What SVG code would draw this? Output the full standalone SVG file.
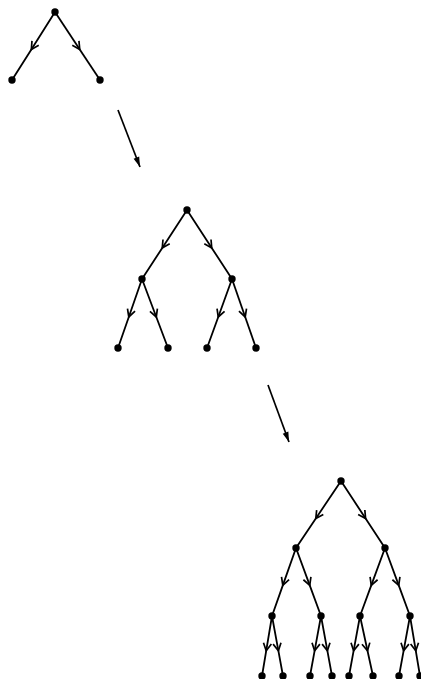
<svg xmlns="http://www.w3.org/2000/svg" width="421" height="679" viewBox="0 0 421 679">
<style>
.e{fill:none;stroke:#000;stroke-width:1.8;marker-mid:url(#chev)}
.big{fill:none;stroke:#000;stroke-width:1.7;marker-end:url(#tri)}
.n{fill:#000}
</style>
<defs>
<marker id="chev" markerUnits="userSpaceOnUse" viewBox="-8 -5 10 10" refX="0" refY="0" markerWidth="10" markerHeight="10" orient="auto" overflow="visible">
<path d="M-7.5,-4 L0,0 L-7.5,4" fill="none" stroke="#000" stroke-width="1.7"/>
</marker>
<marker id="tri" markerUnits="userSpaceOnUse" viewBox="-10 -4 11 8" refX="0" refY="0" markerWidth="11" markerHeight="8" orient="auto" overflow="visible">
<path d="M-10,-3 L0,0 L-10,3 Z" fill="#000"/>
</marker>
</defs>
<g id="connectors">
<path class="e" d="M55,12 L31.35,49.4 L12,80"/>
<path class="e" d="M55,12 L79.75,49.4 L100,80"/>
<path class="big" d="M118,110 L140,167"/>
<path class="e" d="M187,210 L162.25,247.95 L142,279"/>
<path class="e" d="M187,210 L211.75,247.95 L232,279"/>
<path class="e" d="M142,279 L128.8,316.95 L118,348"/>
<path class="e" d="M142,279 L156.3,316.95 L168,348"/>
<path class="e" d="M232,279 L218.25,316.95 L207,348"/>
<path class="e" d="M232,279 L245.2,316.95 L256,348"/>
<path class="big" d="M268,385 L289,442"/>
<path class="e" d="M341,481 L315.8,518.5 L296,548"/>
<path class="e" d="M341,481 L365.6,518.5 L385,548"/>
<path class="e" d="M296,548 L282.8,585.4 L272,616"/>
<path class="e" d="M296,548 L309.75,585.4 L321,616"/>
<path class="e" d="M385,548 L371.25,585.4 L360,616"/>
<path class="e" d="M385,548 L398.75,585.4 L410,616"/>
<path class="e" d="M272,616 L266.2,650.8 L262,676"/>
<path class="e" d="M272,616 L278.4,650.8 L283,676"/>
<path class="e" d="M321,616 L314.6,650.8 L310,676"/>
<path class="e" d="M321,616 L327.4,650.8 L332,676"/>
<path class="e" d="M360,616 L353.6,650.8 L349,676"/>
<path class="e" d="M360,616 L367.5,650.8 L373,676"/>
<path class="e" d="M410,616 L403.6,650.8 L399,676"/>
<path class="e" d="M410,616 L415.8,650.8 L420,676"/>
</g>
<g id="t1_root"><circle class="n" cx="55" cy="12" r="3.7"/></g>
<g id="t1_l"><circle class="n" cx="12" cy="80" r="3.7"/></g>
<g id="t1_r"><circle class="n" cx="100" cy="80" r="3.7"/></g>
<g id="t2_root"><circle class="n" cx="187" cy="210" r="3.7"/></g>
<g id="t2_l"><circle class="n" cx="142" cy="279" r="3.7"/></g>
<g id="t2_r"><circle class="n" cx="232" cy="279" r="3.7"/></g>
<g id="t2_ll"><circle class="n" cx="118" cy="348" r="3.7"/></g>
<g id="t2_lr"><circle class="n" cx="168" cy="348" r="3.7"/></g>
<g id="t2_rl"><circle class="n" cx="207" cy="348" r="3.7"/></g>
<g id="t2_rr"><circle class="n" cx="256" cy="348" r="3.7"/></g>
<g id="t3_root"><circle class="n" cx="341" cy="481" r="3.7"/></g>
<g id="t3_l"><circle class="n" cx="296" cy="548" r="3.7"/></g>
<g id="t3_r"><circle class="n" cx="385" cy="548" r="3.7"/></g>
<g id="t3_ll"><circle class="n" cx="272" cy="616" r="3.7"/></g>
<g id="t3_lr"><circle class="n" cx="321" cy="616" r="3.7"/></g>
<g id="t3_rl"><circle class="n" cx="360" cy="616" r="3.7"/></g>
<g id="t3_rr"><circle class="n" cx="410" cy="616" r="3.7"/></g>
<g id="t3_lll"><circle class="n" cx="262" cy="676" r="3.7"/></g>
<g id="t3_llr"><circle class="n" cx="283" cy="676" r="3.7"/></g>
<g id="t3_lrl"><circle class="n" cx="310" cy="676" r="3.7"/></g>
<g id="t3_lrr"><circle class="n" cx="332" cy="676" r="3.7"/></g>
<g id="t3_rll"><circle class="n" cx="349" cy="676" r="3.7"/></g>
<g id="t3_rlr"><circle class="n" cx="373" cy="676" r="3.7"/></g>
<g id="t3_rrl"><circle class="n" cx="399" cy="676" r="3.7"/></g>
<g id="t3_rrr"><circle class="n" cx="420" cy="676" r="3.7"/></g>
</svg>
